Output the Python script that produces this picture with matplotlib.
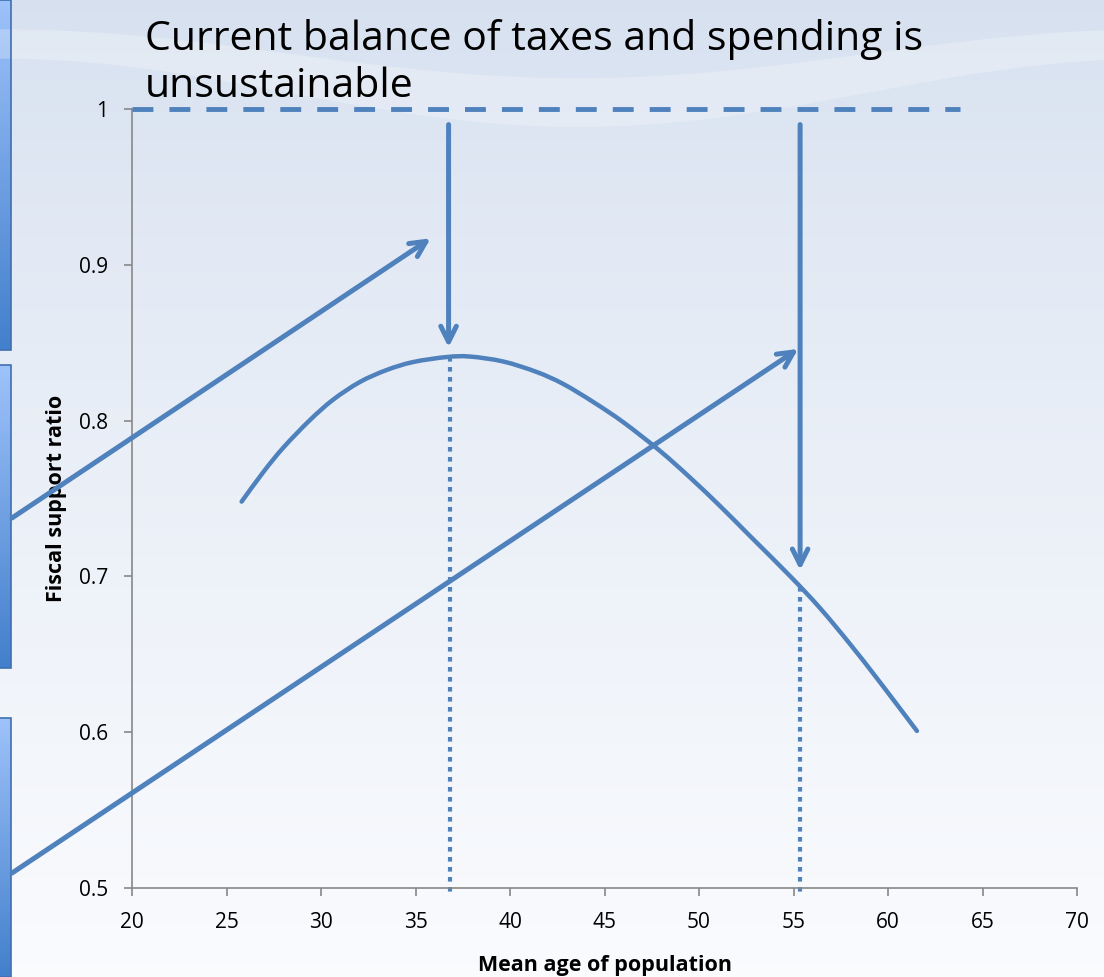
import numpy as np
import matplotlib.pyplot as plt
from matplotlib.patches import Rectangle, PathPatch
from matplotlib.path import Path

# fiscal support ratio curve
age = [25.80, 26.95, 28.01, 29.42, 30.65, 32.06, 33.48, 34.88, 36.65, 37.88,
       39.65, 41.41, 42.82, 44.41, 46.00, 47.94, 49.52, 51.11, 52.70, 54.81,
       56.40, 57.99, 59.58, 61.53]
ratio = [0.7480, 0.7670, 0.7827, 0.8004, 0.8135, 0.8248, 0.8325, 0.8376, 0.8408, 0.8411,
         0.8379, 0.8312, 0.8235, 0.8119, 0.7989, 0.7805, 0.7635, 0.7452, 0.7259, 0.7003,
         0.6797, 0.6566, 0.6320, 0.6008]

# peak and later age markers
peak_age = 36.8
peak_ratio = 0.841
late_age = 55.35
late_ratio = 0.693

# arrows coming from the side boxes (start, end)
side_arrows = [((13.65, 0.7375), (35.8, 0.917)),
               ((13.65, 0.5096), (55.25, 0.846))]
# down arrows from balance line
down_arrows = [((36.75, 0.99), (36.75, 0.847)),
               ((55.35, 0.99), (55.35, 0.704))]

xticks = [20, 25, 30, 35, 40, 45, 50, 55, 60, 65, 70]
yticks = [0.5, 0.6, 0.7, 0.8, 0.9, 1]

blue = "#4f81bd"
plt.rcParams["font.family"] = ["Open Sans", "DejaVu Sans"]
W, H = 1104, 977
fig = plt.figure(figsize=(W / 100, H / 100), dpi=100)

# slide background
bg = fig.add_axes([0, 0, 1, 1], zorder=-10)
grad = np.linspace(0, 1, 256).reshape(-1, 1)
top = np.array([0.84, 0.88, 0.94])
bot = np.array([0.98, 0.985, 0.995])
img = top + (bot - top) * grad[..., None] ** 0.8
bg.imshow(img, aspect="auto", extent=[0, 1, 0, 1], origin="upper")
# soft swoosh near top
xs = np.linspace(0, 1, 200)
bg.fill_between(xs, 1 - 0.06 - 0.07 * np.sin(xs * 3.0) ** 2, 1 - 0.03 - 0.05 * np.sin(xs * 3.0) ** 2,
                color="white", alpha=0.25, lw=0)
# side boxes cut off at left
for y0, y1 in [(0, 350), (365, 668), (718, 977)]:
    g = np.linspace(0, 1, 100).reshape(-1, 1)
    c1 = np.array([0.62, 0.76, 0.98])
    c2 = np.array([0.26, 0.50, 0.80])
    im = c1 + (c2 - c1) * g[..., None]
    bg.imshow(im, aspect="auto", extent=[0, 11 / W, 1 - y1 / H, 1 - y0 / H], origin="upper")
    bg.add_patch(Rectangle((-0.01, 1 - y1 / H), 11 / W + 0.01, (y1 - y0) / H,
                           fill=False, ec="#3f70b0", lw=1.2))
bg.set_xlim(0, 1)
bg.set_ylim(0, 1)
bg.axis("off")

ax = fig.add_axes([132 / W, 1 - 888 / H, (1077 - 132) / W, (888 - 109) / H])
ax.patch.set_alpha(0)
ax.set_xlim(20, 70)
ax.set_ylim(0.5, 1)
ax.set_xticks(xticks)
ax.set_xticklabels([str(t) for t in xticks])
ax.set_yticks(yticks)
ax.set_yticklabels(["0.5", "0.6", "0.7", "0.8", "0.9", "1"])
for s in ["top", "right"]:
    ax.spines[s].set_visible(False)
for s in ["left", "bottom"]:
    ax.spines[s].set_color("#888888")
    ax.spines[s].set_linewidth(1.2)
ax.tick_params(colors="#888888", length=6, width=1.2, labelcolor="black", labelsize=15)
ax.tick_params(axis="x", pad=11)
ax.tick_params(axis="y", pad=11)
ax.set_xlabel("Mean age of population", fontweight="bold", fontsize=15.5, labelpad=16)
ax.set_ylabel("Fiscal support ratio", fontweight="bold", fontsize=15.5, labelpad=9)

# smoothed line like the spreadsheet's "smooth line" option (Catmull-Rom as Bezier)
pts = np.column_stack([age, ratio])
verts = [pts[0]]
codes = [Path.MOVETO]
for i in range(len(pts) - 1):
    p0 = pts[max(i - 1, 0)]
    p1 = pts[i]
    p2 = pts[i + 1]
    p3 = pts[min(i + 2, len(pts) - 1)]
    verts += [p1 + (p2 - p0) / 6, p2 - (p3 - p1) / 6, p2]
    codes += [Path.CURVE4] * 3
ax.add_patch(PathPatch(Path(verts, codes), fill=False, ec=blue, lw=3.2,
                       capstyle="round", joinstyle="round", zorder=5))

# balance line at 1
ax.plot([20, 63.8], [1, 1], color=blue, lw=3.5, ls=(0, (4.3, 3.3)), clip_on=False, zorder=4)

# dotted lines down to axis
ax.plot([peak_age, peak_age], [peak_ratio, 0.497], color=blue, lw=3, ls=(0, (1.1, 1.3)), clip_on=False)
ax.plot([late_age, late_age], [late_ratio, 0.497], color=blue, lw=3, ls=(0, (1.1, 1.3)), clip_on=False)

for (x0, y0), (x1, y1) in side_arrows + down_arrows:
    ax.annotate("", xy=(x1, y1), xytext=(x0, y0), annotation_clip=False,
                arrowprops=dict(arrowstyle="->", color=blue, lw=3.6, mutation_scale=28,
                                shrinkA=0, shrinkB=0, capstyle="round"), zorder=6)

fig.text(145 / W, 1 - 97 / H, "Current balance of taxes and spending is\nunsustainable",
         fontsize=29.5, va="baseline", ha="left", linespacing=1.2)

fig.savefig("out.png", dpi=100)
